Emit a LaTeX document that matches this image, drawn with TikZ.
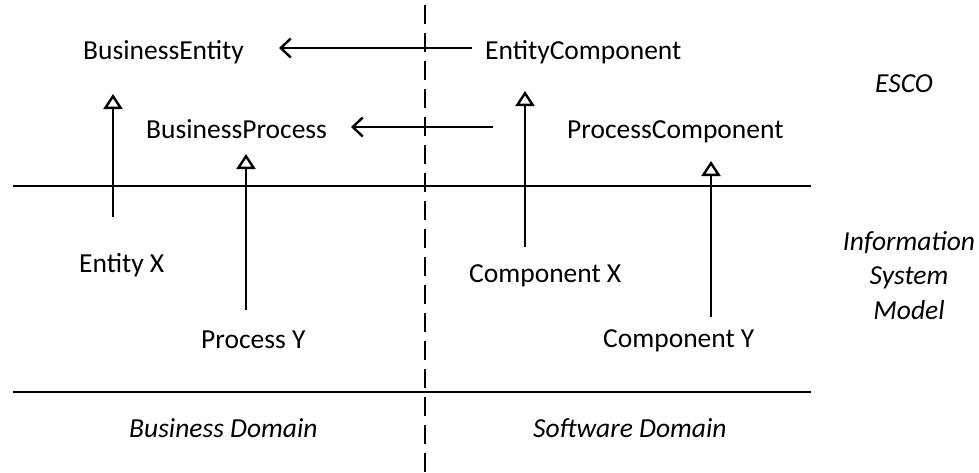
\documentclass[tikz,border=0pt]{standalone}
\usepackage{fontspec}
\setmainfont{Carlito}
\usetikzlibrary{arrows.meta}
\begin{document}
\begin{tikzpicture}[x=1pt,y=-1pt, line width=2.4pt,
  lbl/.style={inner sep=0pt, anchor=base west, font=\fontsize{27.5}{33}\selectfont},
  ilbl/.style={inner sep=0pt, anchor=base west, font=\fontsize{27.5}{33}\selectfont\itshape},
  clbl/.style={inner sep=0pt, anchor=base, font=\fontsize{27.5}{33}\selectfont\itshape},
  inh/.style={-{Triangle[open,length=15pt,width=19pt]}},
  assoc/.style={-{Straight Barb[length=10pt,width=19pt]}},
  divider/.style={line width=2.4pt},
  domainline/.style={line width=2.4pt, dash pattern=on 19pt off 9pt, dash phase=23pt},
  ]
\useasboundingbox (0,0) rectangle (979,472);

% domain separators
\coordinate (hl1a) at (13,186);
\coordinate (hl1b) at (811,186);
\coordinate (hl2a) at (13,392);
\coordinate (hl2b) at (811,392);
\coordinate (vda) at (425,0);
\coordinate (vdb) at (425,472);
\draw[divider] (hl1a) -- (hl1b);
\draw[divider] (hl2a) -- (hl2b);
\draw[domainline] (vda) -- (vdb);

% labels
\node[lbl] (be) at (82,59) {BusinessEntity};
\node[lbl] (bp) at (145,138) {BusinessProcess};
\node[lbl] (ec) at (484,59) {EntityComponent};
\node[lbl] (pc) at (566,138) {ProcessComponent};
\node[lbl] (ex) at (78,272) {Entity X};
\node[lbl] (cx) at (468,282) {Component X};
\node[lbl] (py) at (200,348) {Process Y};
\node[lbl] (cy) at (602,347) {Component Y};

\node[ilbl] (bd) at (128,437) {Business Domain};
\node[ilbl] (sd) at (532,437) {Software Domain};
\node[ilbl] (esco) at (874,92) {ESCO};
\node[clbl] (ism1) at (909,250) {Information};
\node[clbl] (ism2) at (909,284) {System};
\node[clbl] (ism3) at (909,319) {Model};

% connector ends
\coordinate (exUp) at (113,217);
\coordinate (beDown) at (113,94);
\coordinate (pyUp) at (246,310);
\coordinate (bpDown) at (246,154);
\coordinate (cxUp) at (525,247);
\coordinate (ecDown) at (525,91);
\coordinate (cyUp) at (711,317);
\coordinate (pcDown) at (711,161);
\coordinate (ecLeft) at (472,48);
\coordinate (beRight) at (279,48);
\coordinate (pcLeft) at (493,127);
\coordinate (bpRight) at (351,127);

\draw[inh] (exUp) -- (beDown);
\draw[inh] (pyUp) -- (bpDown);
\draw[inh] (cxUp) -- (ecDown);
\draw[inh] (cyUp) -- (pcDown);
\draw[assoc] (ecLeft) -- (beRight);
\draw[assoc] (pcLeft) -- (bpRight);
\end{tikzpicture}
\end{document}
